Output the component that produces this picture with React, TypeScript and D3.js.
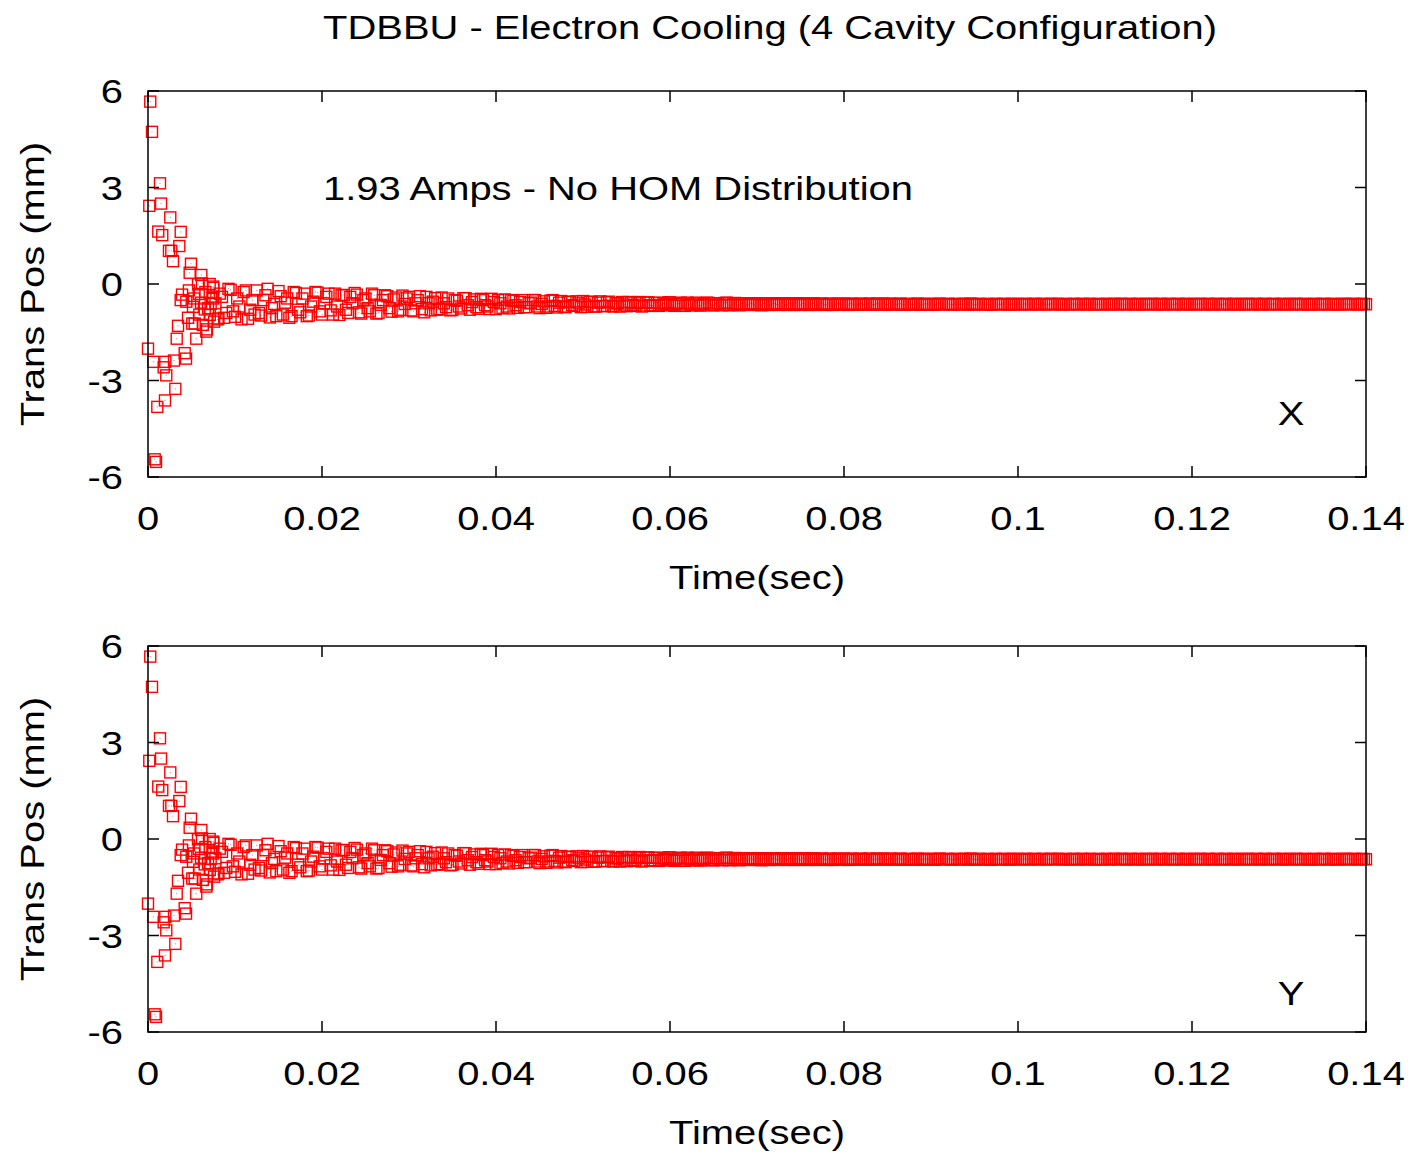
import React from "react";
import * as d3 from "d3";

// ---- Data ----
const xTicks = [0, 0.02, 0.04, 0.06, 0.08, 0.1, 0.12, 0.14];
const xTickLabels = ["0", "0.02", "0.04", "0.06", "0.08", "0.1", "0.12", "0.14"];
const yTicks = [-6, -3, 0, 3, 6];
const yTickLabels = ["-6", "-3", "0", "3", "6"];

// early scattered points (time in sec, transverse position in mm)
const earlyT = [
  0.00026, 0.00046, 0.00138, 0.00015, 0.0015, 0.00256, 0.00118, 0.00164, 0.00376, 0.0036,
  0.00241, 0.00268, 0.00287, 0.00494, 0.00479, 0.00613, 0.00575, 0.00709, 0.00391, 0.00376,
  0.0044, 0.00517, 0.00583, 0.00652, 0.00345, 0.00509, 0.00537, 0.0033, 0.00555, 0.00678,
  0.0, 0.00061, 0.00199, 0.00299, 0.00422, 0.00437, 0.0018, 0.0021, 0.00314, 0.00195,
  0.00107, 0.00077, 0.00092, 0.0075, 0.0074, 0.0069, 0.0076, 0.0063, 0.0067, 0.0062,
  0.0075, 0.0071, 0.0081, 0.0047, 0.0053, 0.0059, 0.0066, 0.0072, 0.0046, 0.0061,
];
const earlyY = [
  5.67, 4.73, 3.13, 2.43, 2.5, 2.07, 1.63, 1.52, 1.62, 1.18,
  1.03, 1.03, 0.71, 0.63, 0.35, 0.28, -0.01, 0.0, -0.33, -0.5,
  -0.55, -0.71, -0.31, -0.79, -1.3, -1.23, -1.23, -1.7, -1.7, -1.41,
  -2.01, -2.42, -2.42, -2.38, -2.15, -2.32, -2.59, -2.84, -3.26, -3.62,
  -3.82, -5.45, -5.53, -0.08, -0.39, -0.75, -1.17, -1.27, -1.48, 0.02,
  -0.45, -0.96, -1.07, -0.2, -0.45, -0.95, -0.25, -0.62, -1.05, -0.58,
];

// dense band: first sample time, sample step, and two interleaved sample sets (mm)
const bandStart = 0.0075;
const bandStep = 0.0005;
const bandY = [
  -0.12, -1.1, -0.4, -0.9, -0.18, -1.02, -0.7, -0.25, -1.08, -0.5,
  -0.2, -0.98, -0.35, -1.04, -0.62, -0.22, -0.95, -0.45, -1.0, -0.28,
  -0.88, -0.3, -0.98, -0.55, -0.27, -0.95, -0.4, -0.82, -0.3, -0.96,
  -0.34, -0.9, -0.6, -0.33, -0.92, -0.45, -0.85, -0.35, -0.9, -0.5,
  -0.38, -0.86, -0.42, -0.8, -0.62, -0.4, -0.85, -0.5, -0.78, -0.4,
  -0.82, -0.44, -0.78, -0.6, -0.45, -0.8, -0.52, -0.76, -0.44, -0.8,
  -0.48, -0.77, -0.5, -0.7, -0.46, -0.78, -0.6, -0.48, -0.76, -0.52,
  -0.74, -0.5, -0.72, -0.58, -0.5, -0.75, -0.54, -0.7, -0.5, -0.73,
  -0.53, -0.72, -0.55, -0.68, -0.6, -0.53, -0.71, -0.56, -0.7, -0.54,
  -0.69, -0.55, -0.7, -0.6, -0.56, -0.69, -0.58, -0.68, -0.56, -0.67,
  -0.57, -0.68, -0.59, -0.66, -0.62, -0.57, -0.68, -0.6, -0.67, -0.58,
  -0.66, -0.58, -0.67, -0.61, -0.59, -0.66, -0.6, -0.66, -0.58, -0.65,
  -0.59, -0.66, -0.6, -0.65, -0.62, -0.6, -0.66, -0.61, -0.65, -0.6,
  -0.65, -0.6, -0.65, -0.62, -0.6, -0.65, -0.61, -0.65, -0.6, -0.64,
  -0.61, -0.65, -0.61, -0.64, -0.62, -0.61, -0.65, -0.62, -0.64, -0.61,
  -0.64, -0.61, -0.64, -0.62, -0.61, -0.64, -0.62, -0.64, -0.61, -0.64,
  -0.62, -0.64, -0.61, -0.64, -0.62, -0.62, -0.64, -0.61, -0.63, -0.62,
  -0.64, -0.62, -0.63, -0.62, -0.61, -0.64, -0.62, -0.63, -0.62, -0.64,
  -0.62, -0.63, -0.62, -0.64, -0.62, -0.62, -0.63, -0.62, -0.63, -0.62,
  -0.63, -0.62, -0.63, -0.62, -0.62, -0.63, -0.62, -0.63, -0.62, -0.63,
  -0.62, -0.63, -0.62, -0.63, -0.63, -0.62, -0.63, -0.62, -0.63, -0.62,
  -0.63, -0.62, -0.63, -0.62, -0.63, -0.63, -0.62, -0.63, -0.62, -0.63,
  -0.62, -0.63, -0.62, -0.63, -0.62, -0.63, -0.63, -0.62, -0.63, -0.62,
  -0.63, -0.62, -0.63, -0.62, -0.63, -0.62, -0.63, -0.63, -0.62, -0.63,
  -0.62, -0.63, -0.62, -0.63, -0.62, -0.63, -0.62, -0.63, -0.63, -0.62,
  -0.63, -0.62, -0.63, -0.62, -0.63, -0.62, -0.63, -0.62, -0.63, -0.63,
  -0.62, -0.63, -0.62, -0.63, -0.62, -0.63,
];
const bandY2 = [
  -0.6, -0.3, -1.05, -0.15, -0.85, -0.45, -1.1, -0.2, -0.8, -0.95,
  -0.9, -0.5, -0.15, -0.75, -1.0, -0.38, -0.58, -1.05, -0.25, -0.8,
  -0.45, -1.0, -0.7, -0.25, -0.85, -0.6, -0.3, -0.95, -0.7, -0.35,
  -0.8, -0.4, -0.28, -0.88, -0.5, -0.75, -0.3, -0.92, -0.65, -0.35,
  -0.75, -0.48, -0.85, -0.36, -0.45, -0.82, -0.6, -0.38, -0.88, -0.6,
  -0.55, -0.8, -0.42, -0.72, -0.82, -0.5, -0.7, -0.44, -0.66, -0.56,
  -0.72, -0.46, -0.66, -0.78, -0.56, -0.5, -0.74, -0.7, -0.5, -0.66,
  -0.56, -0.72, -0.6, -0.5, -0.7, -0.62, -0.74, -0.52, -0.68, -0.58,
  -0.7, -0.56, -0.66, -0.54, -0.72, -0.64, -0.55, -0.7, -0.58, -0.68,
  -0.57, -0.68, -0.6, -0.7, -0.64, -0.56, -0.66, -0.6, -0.7, -0.58,
  -0.66, -0.58, -0.68, -0.6, -0.57, -0.66, -0.62, -0.58, -0.68, -0.63,
  -0.6, -0.66, -0.62, -0.58, -0.66, -0.6, -0.64, -0.59, -0.66, -0.61,
  -0.65, -0.6, -0.64, -0.6, -0.65, -0.62, -0.6, -0.65, -0.61, -0.64,
  -0.61, -0.64, -0.6, -0.65, -0.62, -0.6, -0.64, -0.62, -0.65, -0.61,
  -0.64, -0.62, -0.65, -0.61, -0.63, -0.64, -0.61, -0.64, -0.62, -0.64,
  -0.62, -0.64, -0.61, -0.63, -0.64, -0.61, -0.63, -0.62, -0.64, -0.62,
  -0.63, -0.62, -0.64, -0.62, -0.63, -0.64, -0.62, -0.63, -0.62, -0.63,
  -0.62, -0.63, -0.62, -0.64, -0.62, -0.63, -0.62, -0.63, -0.64, -0.62,
  -0.63, -0.62, -0.63, -0.62, -0.63, -0.63, -0.62, -0.63, -0.62, -0.63,
  -0.62, -0.63, -0.62, -0.63, -0.62, -0.63, -0.63, -0.62, -0.63, -0.62,
  -0.63, -0.62, -0.63, -0.62, -0.63, -0.62, -0.63, -0.62, -0.62, -0.63,
  -0.62, -0.63, -0.62, -0.63, -0.62, -0.62, -0.63, -0.62, -0.63, -0.62,
  -0.63, -0.62, -0.63, -0.62, -0.63, -0.62, -0.62, -0.63, -0.62, -0.63,
  -0.62, -0.63, -0.62, -0.63, -0.62, -0.63, -0.62, -0.62, -0.63, -0.62,
  -0.63, -0.62, -0.63, -0.62, -0.63, -0.62, -0.63, -0.62, -0.62, -0.63,
  -0.62, -0.63, -0.63, -0.62, -0.63, -0.62, -0.63, -0.62, -0.63, -0.62,
  -0.62, -0.63, -0.62, -0.63, -0.62, -0.63,
];

const panels = [
  { label: "X", top: 91 },
  { label: "Y", top: 646 },
];

const title = "TDBBU - Electron Cooling (4 Cavity Configuration)";
const annotation = "1.93 Amps - No HOM Distribution";
const xLabel = "Time(sec)";
const yLabel = "Trans Pos (mm)";

// ---- Layout ----
const W = 1412;
const H = 1154;
const left = 148;
const right = 1366;
const plotH = 386;
const FONT = "'Liberation Sans', Arial, Helvetica, sans-serif";
const FS = 33;
const SX = 1.21;
const TICK = 11;
const RED = "#ff0000";

function T({ x, y, anchor = "middle", rotate = 0, children, fs = FS }: any) {
  const tr = `translate(${x},${y})` + (rotate ? ` rotate(${rotate})` : "") + ` scale(${SX},1)`;
  return (
    <text transform={tr} textAnchor={anchor} fontFamily={FONT} fontSize={fs} fill="#000">
      {children}
    </text>
  );
}

function Panel({ top, label, showAnnotation }: any) {
  const x = d3.scaleLinear().domain([0, 0.14]).range([left, right]);
  const y = d3.scaleLinear().domain([-6, 6]).range([top + plotH, top]);
  const pts: [number, number][] = [];
  earlyT.forEach((t, i) => pts.push([t, earlyY[i]]));
  bandY.forEach((v, i) => {
    pts.push([bandStart + i * bandStep, v]);
    if (i < bandY2.length && bandStart + (i + 0.5) * bandStep <= 0.1401) {
      pts.push([bandStart + (i + 0.5) * bandStep, bandY2[i]]);
    }
  });
  const s = 11;
  return (
    <g>
      {pts.map(([t, v], i) => (
        <g key={i}>
          <rect
            x={x(t) - s / 2}
            y={y(v) - s / 2}
            width={s}
            height={s}
            fill="none"
            stroke={RED}
            strokeWidth={1.4}
          />
          <rect x={x(t) - 0.5} y={y(v) - 0.5} width={1} height={1} fill={RED} opacity={0.6} />
        </g>
      ))}
      {/* ticks */}
      {xTicks.map((t, i) => (
        <g key={"xt" + i}>
          <line x1={x(t)} x2={x(t)} y1={top + plotH} y2={top + plotH - TICK} stroke="#000" strokeWidth={1.5} />
          <line x1={x(t)} x2={x(t)} y1={top} y2={top + TICK} stroke="#000" strokeWidth={1.5} />
          <T x={x(t)} y={top + plotH + 53}>{xTickLabels[i]}</T>
        </g>
      ))}
      {yTicks.map((v, i) => (
        <g key={"yt" + i}>
          <line x1={left} x2={left + TICK} y1={y(v)} y2={y(v)} stroke="#000" strokeWidth={1.5} />
          <line x1={right} x2={right - TICK} y1={y(v)} y2={y(v)} stroke="#000" strokeWidth={1.5} />
          <T x={123} y={y(v) + 12} anchor="end">{yTickLabels[i]}</T>
        </g>
      ))}
      <rect x={left} y={top} width={right - left} height={plotH} fill="none" stroke="#000" strokeWidth={1.5} />
      <T x={757} y={top + plotH + 112}>{xLabel}</T>
      <T x={44} y={top + plotH / 2} rotate={-90}>{yLabel}</T>
      <T x={1291} y={top + (label === "X" ? 334 : 359)}>{label}</T>
      {showAnnotation && (
        <T x={323} y={top + 109} anchor="start">{annotation}</T>
      )}
    </g>
  );
}

export default function App() {
  return (
    <svg width={W} height={H} viewBox={`0 0 ${W} ${H}`} style={{ display: "block", position: "absolute", left: 0, top: 0, background: "#fff" }}>
      <rect x={0} y={0} width={W} height={H} fill="#fff" />
      <T x={770} y={39}>{title}</T>
      {panels.map((p, i) => (
        <Panel key={p.label} top={p.top} label={p.label} showAnnotation={i === 0} />
      ))}
    </svg>
  );
}
